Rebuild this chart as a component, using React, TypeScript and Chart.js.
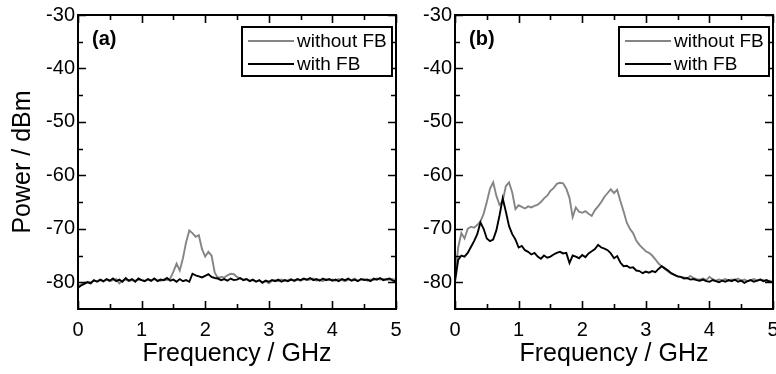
import React, { useEffect, useRef } from 'react';
import { Chart, registerables } from 'chart.js';

Chart.register(...registerables);

// ---- data (frequency step 0.05 GHz, 0 .. 5 GHz) ----
const FREQ_STEP_GHZ = 0.05;

const A_WITHOUT_FB = [
  -80.8, -80.4, -80.1, -79.9, -80.0, -79.7, -79.8, -79.6, -79.9, -79.5,
  -79.8, -79.6, -79.4, -80.2, -79.7, -79.5, -79.8, -79.6, -79.7, -79.5,
  -79.6, -79.7, -79.5, -79.8, -79.4, -79.6, -79.7, -79.5, -79.6, -79.3,
  -78.0, -76.5, -77.8, -75.5, -72.5, -70.3, -70.8, -71.5, -71.2, -73.8,
  -75.2, -74.3, -75.0, -78.2, -79.2, -79.0, -79.1, -78.7, -78.4, -78.5,
  -79.0, -79.3, -79.5, -79.4, -79.7, -79.6, -79.8, -79.7, -80.0, -79.8,
  -80.2, -79.7, -79.6, -79.8, -79.5, -79.7, -79.6, -79.4, -79.8, -79.5,
  -79.7, -79.4, -79.6, -79.5, -79.3, -79.7, -79.5, -79.8, -79.4, -79.6,
  -79.5, -79.7, -79.4, -79.6, -79.8, -79.5, -79.6, -79.3, -79.7, -79.5,
  -79.4, -79.7, -79.5, -79.6, -79.3, -79.5, -79.4, -79.6, -79.5, -79.4,
  -79.6,
];

const A_WITH_FB = [
  -81.0, -80.6, -80.3, -80.0, -80.2, -79.6, -79.9, -79.5, -79.8, -79.4,
  -79.7, -79.3, -79.8, -79.5, -79.9, -79.2, -79.7, -79.4, -79.9, -79.3,
  -79.6, -79.8, -79.4, -79.7, -79.3, -79.8, -79.5, -79.6, -79.2, -79.7,
  -79.5, -79.9, -79.4, -79.8, -79.6, -79.9, -78.4, -78.7, -78.9, -79.1,
  -78.8, -78.5, -79.0, -79.2, -79.3, -79.6, -79.4, -79.7, -79.3, -79.6,
  -79.5, -79.2, -79.6, -79.4, -79.8, -79.5, -79.9, -79.6, -80.1, -79.7,
  -79.9, -79.6, -79.8, -79.5, -79.9, -79.6, -79.8, -79.5, -79.7, -79.4,
  -79.6, -79.3, -79.5, -79.2, -79.6, -79.4, -79.7, -79.3, -79.6, -79.4,
  -79.7, -79.5, -79.8, -79.4, -79.6, -79.3, -79.7, -79.5, -79.8, -79.4,
  -79.6, -79.5, -79.8, -79.3, -79.5, -79.2, -79.6, -79.4, -79.3, -79.7,
  -79.8,
];

const B_WITHOUT_FB = [
  -79.0, -73.5, -70.8, -71.8, -70.0, -69.6, -69.8, -69.3, -68.6, -67.2,
  -65.0, -62.5, -61.3, -63.8, -65.5, -64.8, -62.0, -61.3, -63.2, -66.3,
  -65.6, -65.9, -66.2, -65.8, -66.0, -65.7, -65.5, -65.0, -64.3, -63.8,
  -62.9, -62.4, -61.6, -61.4, -61.5, -62.5, -64.2, -67.8, -66.0, -66.8,
  -67.0, -66.7, -67.2, -67.6, -66.5, -65.8, -65.0, -64.0, -63.3, -62.6,
  -63.3, -62.7, -64.8, -66.7, -68.8, -70.0, -70.8, -72.2, -73.0, -73.6,
  -74.2, -74.5, -75.0, -75.7, -76.5, -77.0, -77.5, -78.0, -78.4, -78.6,
  -78.9, -79.0, -79.1, -79.3, -78.8, -79.2, -79.4, -79.5, -79.3, -79.6,
  -79.0, -79.4, -79.7, -79.5, -79.6, -79.4, -79.7, -79.5, -79.6, -79.3,
  -79.7, -79.5, -79.8, -79.6, -79.4, -79.7, -79.5, -79.6, -79.8, -79.7,
  -80.0,
];

const B_WITH_FB = [
  -79.9, -75.8, -75.0, -75.2, -74.5, -73.4, -72.3, -71.0, -68.8, -70.0,
  -71.8, -72.3, -72.0, -70.3, -67.5, -64.3, -66.8, -69.5, -71.0, -72.0,
  -73.5, -73.2, -74.0, -74.3, -74.8, -74.5, -75.2, -75.6, -75.0, -75.4,
  -75.2, -74.8, -74.5, -74.3, -74.6, -74.5, -76.4, -75.0, -75.2, -75.5,
  -74.9, -75.3, -74.6, -74.2, -73.8, -73.0, -73.5, -73.7, -74.0, -74.6,
  -75.5, -75.1, -76.3, -77.0, -76.9, -77.3, -77.2, -77.8, -77.9, -78.3,
  -78.0, -78.2, -77.9, -78.1, -77.5, -77.0, -77.4, -77.8, -78.3, -78.6,
  -78.9, -79.0, -79.3, -79.2, -79.5, -79.4, -79.6, -79.7, -79.5, -79.8,
  -79.9, -79.6, -79.8, -80.0, -79.7, -79.9, -79.6, -79.8, -79.5, -79.9,
  -79.7, -80.1, -79.8, -79.6, -79.9, -79.7, -79.5, -79.8, -79.6, -79.9,
  -80.0,
];

const X_TICKS = [0, 1, 2, 3, 4, 5];
const X_MINOR_TICKS = [0.5, 1.5, 2.5, 3.5, 4.5];
const Y_TICKS = [-80, -70, -60, -50, -40, -30];
const Y_MINOR_TICKS = [-75, -65, -55, -45, -35];

const SERIES_LABELS = ['without FB', 'with FB'];
const PANEL_LABELS = ['(a)', '(b)'];

const FONT = '"Liberation Sans", Arial, Helvetica, sans-serif';
const GRAY = '#858585';

const FREQ = A_WITH_FB.map((_, i) => Math.round(i * FREQ_STEP_GHZ * 100) / 100);
const toXY = (vals: number[]) => vals.map((y, i) => ({ x: FREQ[i], y }));

const framePlugin = (panelLabel: string) => ({
  id: 'frame',
  afterDatasetsDraw(chart: any) {
    const { ctx, chartArea: a, scales } = chart;
    const xs = scales.x;
    const ys = scales.y;
    ctx.save();
    ctx.strokeStyle = '#000';
    ctx.lineWidth = 1.6;
    ctx.beginPath();
    const major = 8;
    const minor = 5;
    const tick = (vals: number[], len: number) => {
      vals.forEach((v) => {
        const px = Math.round(xs.getPixelForValue(v)) + 0.5;
        ctx.moveTo(px, a.bottom);
        ctx.lineTo(px, a.bottom - len);
        ctx.moveTo(px, a.top);
        ctx.lineTo(px, a.top + len);
      });
    };
    const ytick = (vals: number[], len: number) => {
      vals.forEach((v) => {
        const py = Math.round(ys.getPixelForValue(v)) + 0.5;
        ctx.moveTo(a.left, py);
        ctx.lineTo(a.left + len, py);
        ctx.moveTo(a.right, py);
        ctx.lineTo(a.right - len, py);
      });
    };
    tick(X_TICKS, major);
    tick(X_MINOR_TICKS, minor);
    ytick(Y_TICKS, major);
    ytick(Y_MINOR_TICKS, minor);
    ctx.stroke();

    ctx.lineWidth = 2;
    ctx.strokeRect(a.left, a.top, a.right - a.left, a.bottom - a.top);

    // panel label
    ctx.fillStyle = '#000';
    ctx.font = `bold 20px ${FONT}`;
    ctx.textBaseline = 'middle';
    ctx.textAlign = 'left';
    ctx.fillText(panelLabel, a.left + 14, a.top + 24);

    // legend box
    const bw = 150;
    const bh = 49;
    const bx = a.right - 4 - bw;
    const by = a.top + 12;
    ctx.fillStyle = '#fff';
    ctx.fillRect(bx, by, bw, bh);
    ctx.lineWidth = 2;
    ctx.strokeStyle = '#000';
    ctx.strokeRect(bx, by, bw, bh);
    const rows = [
      { label: SERIES_LABELS[0], color: GRAY },
      { label: SERIES_LABELS[1], color: '#000' },
    ];
    ctx.font = `19px ${FONT}`;
    rows.forEach((r, i) => {
      const yy = by + 14 + i * 23;
      ctx.strokeStyle = r.color;
      ctx.lineWidth = 1.8;
      ctx.beginPath();
      ctx.moveTo(bx + 6, yy);
      ctx.lineTo(bx + 52, yy);
      ctx.stroke();
      ctx.fillStyle = '#000';
      ctx.fillText(r.label, bx + 55, yy + 1);
    });
    ctx.restore();
  },
});

function makeConfig(
  without: number[],
  withFb: number[],
  yWidth: number,
  rightPad: number,
  showYTitle: boolean,
  panelLabel: string
): any {
  return {
    type: 'line',
    data: {
      datasets: [
        {
          label: SERIES_LABELS[1],
          data: toXY(withFb),
          borderColor: '#000',
          borderWidth: 1.9,
          pointRadius: 0,
          tension: 0,
        },
        {
          label: SERIES_LABELS[0],
          data: toXY(without),
          borderColor: GRAY,
          borderWidth: 1.9,
          pointRadius: 0,
          tension: 0,
        },
      ],
    },
    options: {
      animation: false,
      responsive: false,
      events: [],
      layout: { padding: { left: 0, right: rightPad, top: 15, bottom: 0 } },
      plugins: { legend: { display: false }, tooltip: { enabled: false } },
      scales: {
        x: {
          type: 'linear',
          min: 0,
          max: 5,
          grid: { display: false, drawTicks: false },
          border: { display: false },
          afterBuildTicks: (s: any) => {
            s.ticks = X_TICKS.map((v) => ({ value: v }));
          },
          afterFit: (s: any) => {
            s.height = 65;
            s.paddingLeft = 0;
            s.paddingRight = 0;
          },
          ticks: {
            color: '#000',
            font: { size: 20, family: FONT },
            padding: 9,
            maxRotation: 0,
            autoSkip: false,
            callback: (v: any) => String(v),
          },
          title: {
            display: true,
            text: 'Frequency / GHz',
            color: '#000',
            font: { size: 25, family: FONT },
            padding: { top: 0, bottom: 5 },
          },
        },
        y: {
          type: 'linear',
          min: -85,
          max: -30,
          grid: { display: false, drawTicks: false },
          border: { display: false },
          afterBuildTicks: (s: any) => {
            s.ticks = Y_TICKS.map((v) => ({ value: v }));
          },
          afterFit: (s: any) => {
            s.width = yWidth;
            s.paddingTop = 0;
            s.paddingBottom = 0;
          },
          ticks: {
            color: '#000',
            font: { size: 20, family: FONT },
            padding: 3,
            autoSkip: false,
            callback: (v: any) => String(v),
          },
          title: {
            display: showYTitle,
            text: 'Power / dBm',
            color: '#000',
            font: { size: 25, family: FONT },
            padding: { top: 8, bottom: 0 },
          },
        },
      },
    },
    plugins: [framePlugin(panelLabel)],
  };
}

function Panel(props: {
  left: number;
  width: number;
  without: number[];
  withFb: number[];
  yWidth: number;
  rightPad: number;
  showYTitle: boolean;
  label: string;
}) {
  const ref = useRef<HTMLCanvasElement | null>(null);
  useEffect(() => {
    if (!ref.current) return;
    const chart = new Chart(
      ref.current,
      makeConfig(props.without, props.withFb, props.yWidth, props.rightPad, props.showYTitle, props.label)
    );
    return () => chart.destroy();
  }, []);
  return (
    <canvas
      ref={ref}
      width={props.width}
      height={374}
      style={{ position: 'absolute', left: props.left, top: 0, width: props.width, height: 374 }}
    />
  );
}

export default function App() {
  return (
    <div
      style={{
        position: 'absolute',
        left: 0,
        top: 0,
        width: 776,
        height: 374,
        background: '#fff',
        overflow: 'hidden',
      }}
    >
      <Panel
        left={0}
        width={420}
        without={A_WITHOUT_FB}
        withFb={A_WITH_FB}
        yWidth={78}
        rightPad={24}
        showYTitle={true}
        label={PANEL_LABELS[0]}
      />
      <Panel
        left={400}
        width={376}
        without={B_WITHOUT_FB}
        withFb={B_WITH_FB}
        yWidth={55}
        rightPad={3}
        showYTitle={false}
        label={PANEL_LABELS[1]}
      />
    </div>
  );
}
